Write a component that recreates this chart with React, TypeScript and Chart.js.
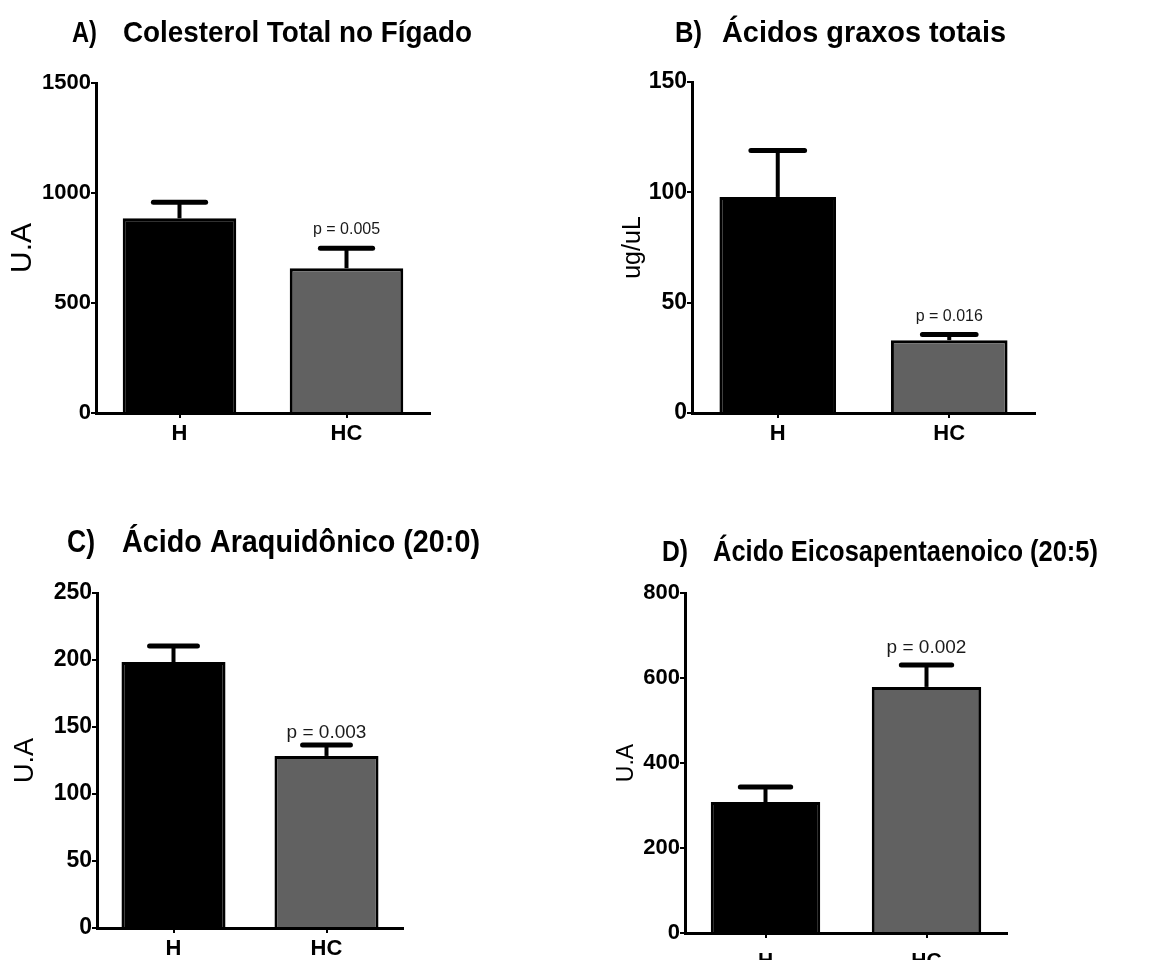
import React, { useEffect, useRef } from "react";
import { Chart, registerables } from "chart.js";

Chart.register(...registerables);

// ---------- data ----------
const categories = ["H", "HC"];
const barColors = ["#000000", "#616161"];

const colesterolMean = [885, 658];
const colesterolSem = [73, 91];
const colesterolP = "p = 0.005";

const graxosMean = [97.9, 33.0];
const graxosSem = [21.1, 2.6];
const graxosP = "p = 0.016";

const araquidonicoMean = [198.5, 128.4];
const araquidonicoSem = [12.0, 8.2];
const araquidonicoP = "p = 0.003";

const eicosaMean = [308, 579];
const eicosaSem = [35.5, 51.5];
const eicosaP = "p = 0.002";

const SANS = "'Liberation Sans', Arial, sans-serif";

type PanelCfg = {
  left: number; top: number; width: number; height: number;
  area: { l: number; t: number; r: number; b: number };
  xAxisH: number; xPad: number;
  prefix: string; prefixX: number; prefixW: number;
  title: string; titleX: number; titleW: number; titleY: number; titleSize: number;
  yLabel: string; yLabelSize: number; yLabelPad: number;
  yMax: number; yStep: number;
  means: number[]; errors: number[];
  pText: string; pSize: number; pGap: number;
  tickSize: number; xSize: number;
};

const panels: PanelCfg[] = [
  {
    left: 0, top: 0, width: 580, height: 480,
    area: { l: 96, t: 83, r: 430, b: 413 },
    xAxisH: 50, xPad: 3,
    prefix: "A)", prefixX: 72, prefixW: 25,
    title: "Colesterol Total no Fígado", titleX: 123, titleW: 349, titleY: 42, titleSize: 30,
    yLabel: "U.A", yLabelSize: 30, yLabelPad: 5,
    yMax: 1500, yStep: 500,
    means: colesterolMean, errors: colesterolSem,
    pText: colesterolP, pSize: 16, pGap: 19,
    tickSize: 22, xSize: 22,
  },
  {
    left: 580, top: 0, width: 574, height: 480,
    area: { l: 112, t: 82, r: 455, b: 413 },
    xAxisH: 50, xPad: 3,
    prefix: "B)", prefixX: 95, prefixW: 27,
    title: "Ácidos graxos totais", titleX: 142, titleW: 284, titleY: 42, titleSize: 29,
    yLabel: "ug/uL", yLabelSize: 25, yLabelPad: 38,
    yMax: 150, yStep: 50,
    means: graxosMean, errors: graxosSem,
    pText: graxosP, pSize: 16, pGap: 18,
    tickSize: 23, xSize: 22,
  },
  {
    left: 0, top: 480, width: 580, height: 480,
    area: { l: 97, t: 113, r: 403, b: 448 },
    xAxisH: 32, xPad: 3,
    prefix: "C)", prefixX: 67, prefixW: 28,
    title: "Ácido Araquidônico (20:0)", titleX: 122, titleW: 358, titleY: 72, titleSize: 31,
    yLabel: "U.A", yLabelSize: 27, yLabelPad: 9,
    yMax: 250, yStep: 50,
    means: araquidonicoMean, errors: araquidonicoSem,
    pText: araquidonicoP, pSize: 19, pGap: 12,
    tickSize: 23, xSize: 22,
  },
  {
    left: 580, top: 480, width: 574, height: 480,
    area: { l: 105, t: 113, r: 427, b: 453 },
    xAxisH: 27, xPad: 11,
    prefix: "D)", prefixX: 82, prefixW: 26,
    title: "Ácido Eicosapentaenoico (20:5)", titleX: 133, titleW: 385, titleY: 81, titleSize: 30,
    yLabel: "U.A", yLabelSize: 23, yLabelPad: 33,
    yMax: 800, yStep: 200,
    means: eicosaMean, errors: eicosaSem,
    pText: eicosaP, pSize: 19, pGap: 17,
    tickSize: 22, xSize: 21,
  },
];

function fitText(ctx: CanvasRenderingContext2D, text: string, x: number, y: number, w: number, font: string) {
  ctx.font = font;
  const m = ctx.measureText(text).width || 1;
  ctx.save();
  ctx.translate(x, y);
  ctx.scale(w / m, 1);
  ctx.textAlign = "left";
  ctx.textBaseline = "alphabetic";
  ctx.fillText(text, 0, 0);
  ctx.restore();
}

function Panel({ cfg }: { cfg: PanelCfg }) {
  const ref = useRef<HTMLCanvasElement>(null);

  useEffect(() => {
    const canvas = ref.current;
    if (!canvas) return;

    const extras = {
      id: "panelExtras",
      afterDatasetsDraw(chart: any) {
        const ctx: CanvasRenderingContext2D = chart.ctx;
        const meta = chart.getDatasetMeta(0);
        const y = chart.scales.y;
        ctx.save();
        ctx.strokeStyle = "#000";
        let lastCap = 0;
        let lastX = 0;
        meta.data.forEach((bar: any, i: number) => {
          const mean = cfg.means[i];
          const err = cfg.errors[i];
          const x = bar.x;
          const yBar = y.getPixelForValue(mean);
          const yTop = y.getPixelForValue(mean + err);
          const half = bar.width * 0.23;
          ctx.lineWidth = 4;
          ctx.lineCap = "butt";
          ctx.beginPath();
          ctx.moveTo(x, yBar);
          ctx.lineTo(x, yTop);
          ctx.stroke();
          ctx.lineWidth = 5;
          ctx.lineCap = "round";
          ctx.beginPath();
          ctx.moveTo(x - half, yTop);
          ctx.lineTo(x + half, yTop);
          ctx.stroke();
          lastCap = yTop;
          lastX = x;
        });
        ctx.fillStyle = "#1a1a1a";
        ctx.font = `${cfg.pSize}px ${SANS}`;
        ctx.textAlign = "center";
        ctx.textBaseline = "middle";
        ctx.fillText(cfg.pText, lastX, lastCap - cfg.pGap);
        ctx.restore();
      },
      afterDraw(chart: any) {
        const ctx: CanvasRenderingContext2D = chart.ctx;
        ctx.save();
        ctx.fillStyle = "#000";
        const font = `bold ${cfg.titleSize}px ${SANS}`;
        fitText(ctx, cfg.prefix, cfg.prefixX, cfg.titleY, cfg.prefixW, font);
        fitText(ctx, cfg.title, cfg.titleX, cfg.titleY, cfg.titleW, font);
        ctx.restore();
      },
    };

    const chart = new Chart(canvas, {
      type: "bar",
      data: {
        labels: categories,
        datasets: [
          {
            data: cfg.means,
            backgroundColor: barColors,
            borderColor: "#000",
            borderWidth: 3,
            borderSkipped: "bottom",
            barPercentage: 0.68,
            categoryPercentage: 1,
          },
        ],
      },
      options: {
        responsive: false,
        animation: false,
        events: [],
        layout: {
          padding: {
            left: 0,
            top: cfg.area.t,
            right: cfg.width - cfg.area.r,
            bottom: cfg.height - cfg.area.b - cfg.xAxisH,
          },
        },
        plugins: {
          legend: { display: false },
          tooltip: { enabled: false },
          title: { display: false },
        },
        scales: {
          x: {
            type: "category",
            offset: true,
            grid: {
              display: true,
              drawOnChartArea: false,
              drawTicks: true,
              tickLength: 5,
              color: "#000",
              lineWidth: 2,
              offset: false,
            },
            border: { display: true, color: "#000", width: 3 },
            ticks: {
              color: "#000",
              padding: cfg.xPad,
              maxRotation: 0,
              minRotation: 0,
              autoSkip: false,
              font: { family: SANS, size: cfg.xSize, weight: "bold" },
            },
            afterFit: (s: any) => {
              s.height = cfg.xAxisH;
            },
          },
          y: {
            type: "linear",
            min: 0,
            max: cfg.yMax,
            grid: {
              display: true,
              drawOnChartArea: false,
              drawTicks: true,
              tickLength: 5,
              color: "#000",
              lineWidth: 2,
            },
            border: { display: true, color: "#000", width: 3 },
            ticks: {
              stepSize: cfg.yStep,
              color: "#000",
              padding: 0,
              callback: (v: any) => String(v),
              font: { family: SANS, size: cfg.tickSize, weight: "bold" },
            },
            title: {
              display: true,
              text: cfg.yLabel,
              color: "#000",
              font: { family: SANS, size: cfg.yLabelSize, weight: "normal" },
              padding: { top: cfg.yLabelPad, bottom: 0 },
            },
            afterFit: (s: any) => {
              s.width = cfg.area.l;
            },
          },
        },
      } as any,
      plugins: [extras as any],
    });

    return () => chart.destroy();
  }, [cfg]);

  return (
    <canvas
      ref={ref}
      width={cfg.width}
      height={cfg.height}
      style={{
        position: "absolute",
        left: cfg.left,
        top: cfg.top,
        width: cfg.width,
        height: cfg.height,
        display: "block",
      }}
    />
  );
}

export default function App() {
  return (
    <div
      style={{
        position: "absolute",
        left: 0,
        top: 0,
        width: 1154,
        height: 960,
        background: "#fff",
        overflow: "hidden",
      }}
    >
      {panels.map((p, i) => (
        <Panel key={i} cfg={p} />
      ))}
    </div>
  );
}
